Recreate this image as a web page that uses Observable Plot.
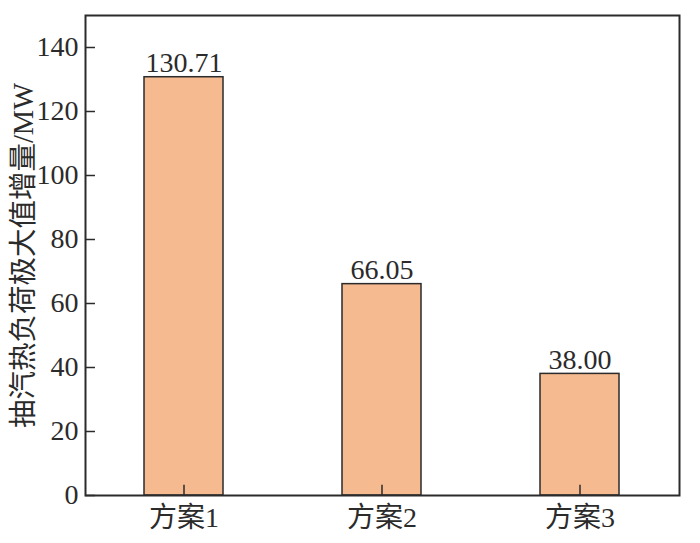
<!DOCTYPE html>
<html>
<head>
<meta charset="utf-8">
<script src="https://cdn.jsdelivr.net/npm/d3@7"></script>
<script src="https://cdn.jsdelivr.net/npm/@observablehq/plot@0.6"></script>
<style>
  html, body { margin: 0; padding: 0; background: #fff; }
</style>
</head>
<body>
<div id="chart"></div>
<script>
const categories = ["方案1", "方案2", "方案3"];
const values = [130.71, 66.05, 38.00];
const valueLabels = ["130.71", "66.05", "38.00"];
const yTicks = [0, 20, 40, 60, 80, 100, 120, 140];
const yLabel = "抽汽热负荷极大值增量/MW";

const data = categories.map((c, i) => ({category: c, value: values[i], label: valueLabels[i]}));

const ink = "#2b2b2b";
const font = "'Liberation Serif', 'Noto Sans CJK SC', serif";
const chart = Plot.plot({
  width: 700,
  height: 543,
  marginLeft: 85,
  marginRight: 21,
  marginTop: 15,
  marginBottom: 48,
  style: {fontFamily: font, fontSize: "28px", color: ink, background: "#fff"},
  x: {domain: categories, paddingInner: 0.6, paddingOuter: 0.3, label: null},
  y: {domain: [0, 150], label: null},
  marks: [
    Plot.barY(data, {x: "category", y: "value", fill: "#F6BA90", stroke: ink, strokeWidth: 1.5}),
    Plot.text(data, {x: "category", y: "value", text: "label", lineAnchor: "bottom", dy: -5, fill: ink, fontSize: 28}),
    Plot.axisY({ticks: yTicks, tickSize: 0, tickPadding: 7, tickFormat: d => String(d), stroke: ink, fill: ink, fontSize: 28, label: null}),
    Plot.ruleY(yTicks, {y: d => d, insetRight: 584, stroke: ink, strokeWidth: 1.5}),
    Plot.axisX({tickSize: 0, tickPadding: 12, fill: ink, fontSize: 28, label: null}),
    Plot.ruleX(categories, {x: d => d, y1: 0, y2: 3.2, stroke: ink, strokeWidth: 1.5}),
    Plot.text([yLabel], {text: d => d, frameAnchor: "left", textAnchor: "middle", dx: -62, rotate: -90, fontSize: 28.5, fill: ink}),
    Plot.frame({stroke: ink, strokeWidth: 2})
  ]
});
document.getElementById("chart").appendChild(chart);
</script>
</body>
</html>
